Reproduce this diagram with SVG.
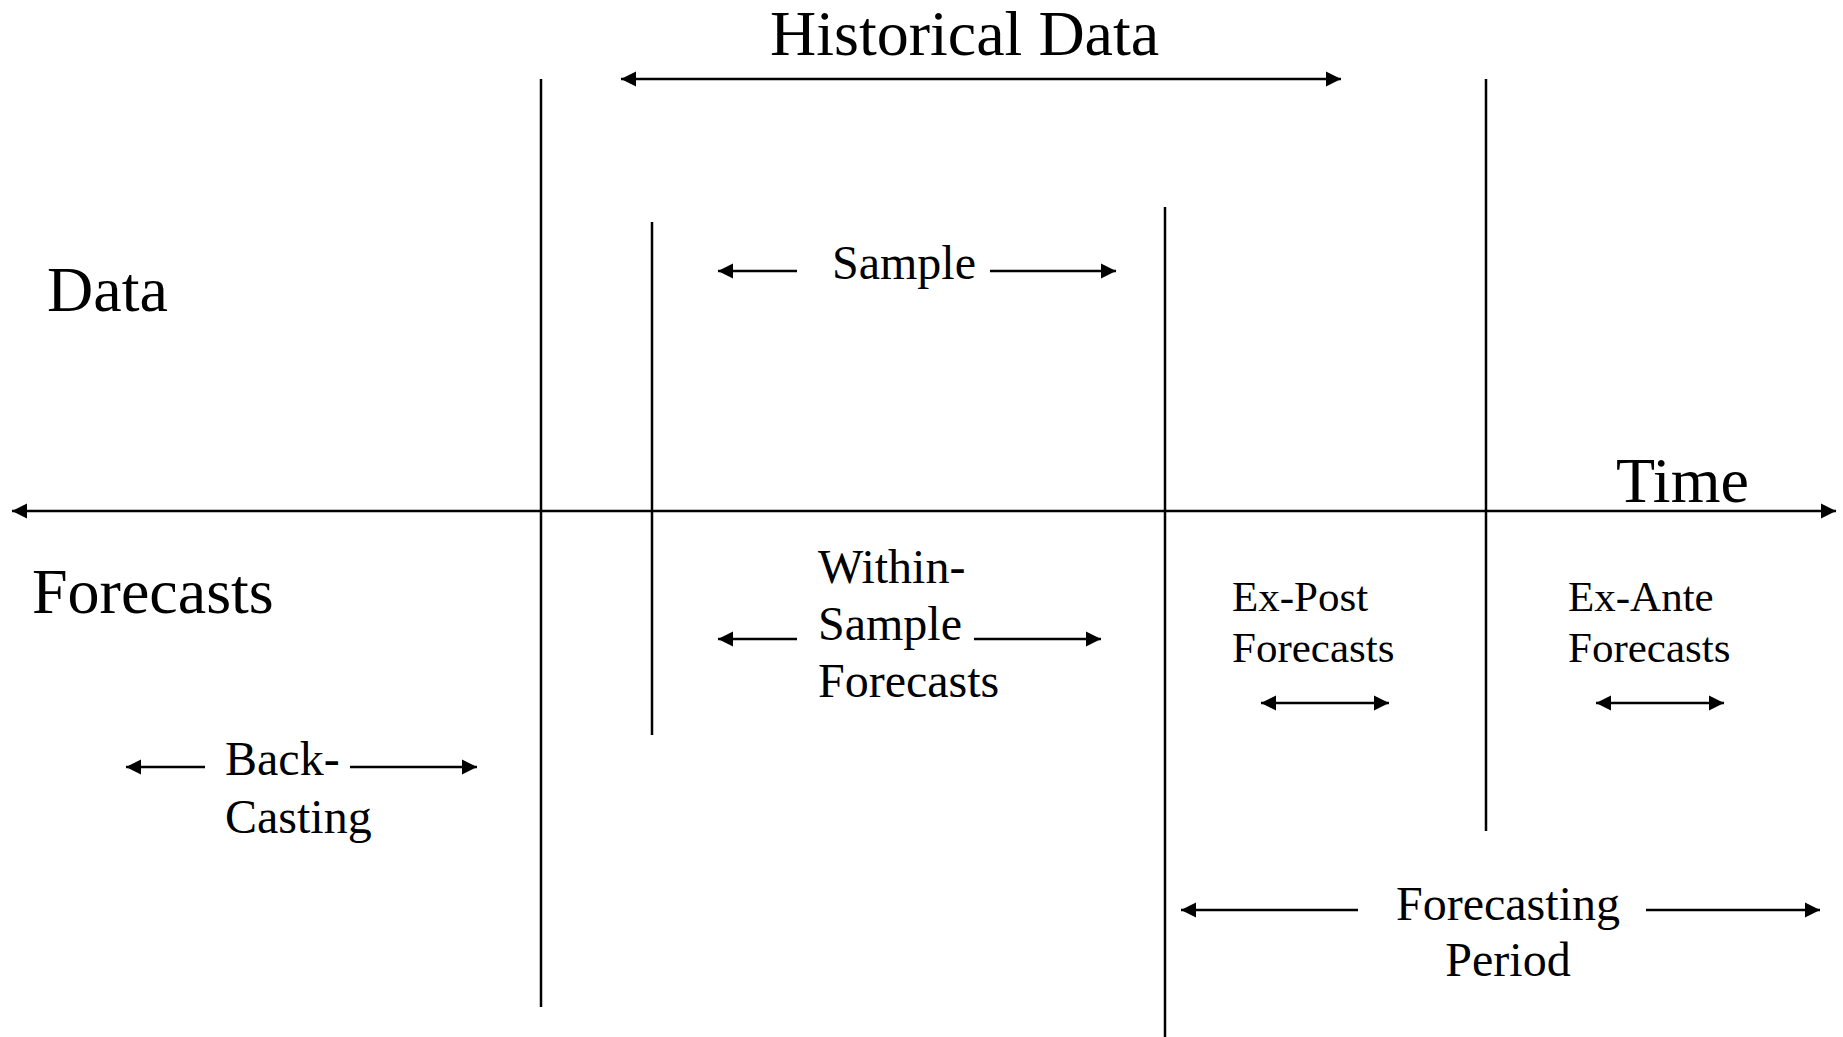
<svg xmlns="http://www.w3.org/2000/svg" width="1843" height="1037" viewBox="0 0 1843 1037">
  <defs>
    <marker id="ah" markerUnits="userSpaceOnUse" markerWidth="16" markerHeight="16" refX="15" refY="8" orient="auto-start-reverse">
      <path d="M0,0.5 L15,8 L0,15.5 z" fill="#000"/>
    </marker>
    <style>
      .t { font-family: "Liberation Serif", "Times New Roman", serif; fill: #000; }
      .big { font-size: 64px; }
      .mid { font-size: 48px; }
      .sm { font-size: 43px; }
      .ln { stroke: #000; stroke-width: 2.5; fill: none; }
      .ar { stroke: #000; stroke-width: 2.5; fill: none; marker-end: url(#ah); }
      .dar { stroke: #000; stroke-width: 2.5; fill: none; marker-start: url(#ah); marker-end: url(#ah); }
    </style>
  </defs>
  <rect width="1843" height="1037" fill="#fff"/>

  <g id="connectors">
    <!-- time axis -->
    <line class="dar" x1="12" y1="511" x2="1836" y2="511"/>
    <!-- vertical boundaries -->
    <line class="ln" x1="541" y1="79" x2="541" y2="1007"/>
    <line class="ln" x1="652" y1="222" x2="652" y2="735"/>
    <line class="ln" x1="1165" y1="207" x2="1165" y2="1037"/>
    <line class="ln" x1="1486" y1="79" x2="1486" y2="831"/>
    <!-- historical data -->
    <line class="dar" x1="621" y1="79" x2="1341" y2="79"/>
    <!-- sample -->
    <line class="ar" x1="797" y1="271" x2="718" y2="271"/>
    <line class="ar" x1="990" y1="271" x2="1116" y2="271"/>
    <!-- within-sample -->
    <line class="ar" x1="797" y1="639" x2="718" y2="639"/>
    <line class="ar" x1="974" y1="639" x2="1101" y2="639"/>
    <!-- backcasting -->
    <line class="ar" x1="205" y1="767" x2="126" y2="767"/>
    <line class="ar" x1="350" y1="767" x2="477" y2="767"/>
    <!-- ex-post / ex-ante -->
    <line class="dar" x1="1261" y1="703" x2="1389" y2="703"/>
    <line class="dar" x1="1596" y1="703" x2="1724" y2="703"/>
    <!-- forecasting period -->
    <line class="ar" x1="1358" y1="910" x2="1181" y2="910"/>
    <line class="ar" x1="1646" y1="910" x2="1820" y2="910"/>
  </g>

  <g id="historical-data"><text class="t big" x="770" y="55">Historical Data</text></g>
  <g id="data"><text class="t big" x="47" y="311">Data</text></g>
  <g id="forecasts"><text class="t big" x="32" y="613">Forecasts</text></g>
  <g id="time"><text class="t big" x="1616" y="502">Time</text></g>
  <g id="sample"><text class="t mid" x="832" y="279">Sample</text></g>
  <g id="within-sample">
    <text class="t mid" x="818" y="583">Within-</text>
    <text class="t mid" x="818" y="640">Sample</text>
    <text class="t mid" x="818" y="697">Forecasts</text>
  </g>
  <g id="ex-post">
    <text class="t sm" x="1232" y="611">Ex-Post</text>
    <text class="t sm" x="1232" y="662">Forecasts</text>
  </g>
  <g id="ex-ante">
    <text class="t sm" x="1568" y="611">Ex-Ante</text>
    <text class="t sm" x="1568" y="662">Forecasts</text>
  </g>
  <g id="back-casting">
    <text class="t mid" x="225" y="775">Back-</text>
    <text class="t mid" x="225" y="833">Casting</text>
  </g>
  <g id="forecasting-period">
    <text class="t mid" x="1508" y="920" text-anchor="middle">Forecasting</text>
    <text class="t mid" x="1508" y="976" text-anchor="middle">Period</text>
  </g>
</svg>
